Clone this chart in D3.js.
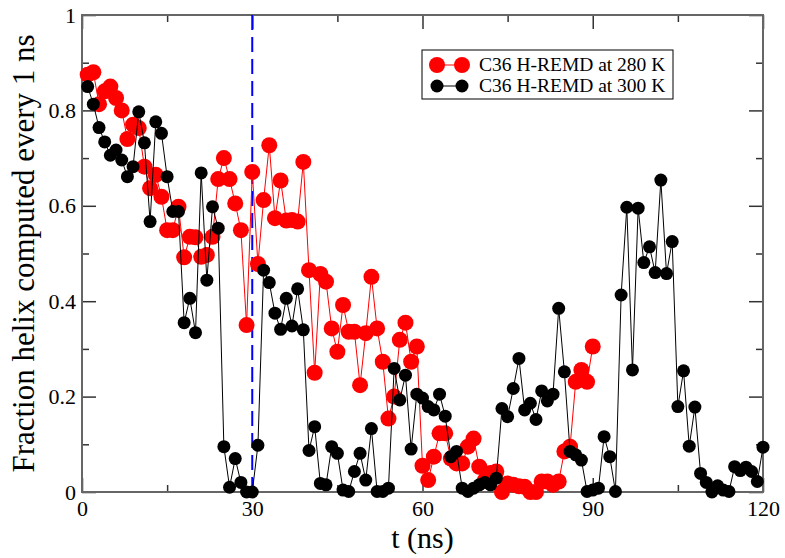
<!DOCTYPE html>
<html>
<head>
<meta charset="utf-8">
<script src="https://cdn.jsdelivr.net/npm/d3@7"></script>
<style>
  body { margin: 0; background: #fff; }
  svg { display: block; font-family: "Liberation Serif", "DejaVu Serif", serif; }
</style>
</head>
<body>
<script>
// helix fraction, one value per ns
const red280 = [
  0.875, 0.88, 0.813, 0.84, 0.85, 0.826, 0.80, 0.74, 0.77, 0.763,
  0.682, 0.637, 0.665, 0.619, 0.549, 0.549, 0.598, 0.492, 0.535, 0.534,
  0.493, 0.497, 0.535, 0.656, 0.70, 0.656, 0.605, 0.549, 0.35, 0.671,
  0.478, 0.612, 0.727, 0.574, 0.653, 0.569, 0.57, 0.567, 0.692, 0.465,
  0.25, 0.457, 0.441, 0.343, 0.294, 0.392, 0.336, 0.336, 0.224, 0.333,
  0.451, 0.343, 0.273, 0.154, 0.2, 0.319, 0.355, 0.273, 0.305, 0.055,
  0.025, 0.074, 0.123, 0.123, 0.07, 0.06, 0.06, 0.095, 0.112, 0.053,
  0.025, 0.04, 0.043, 0.0, 0.018, 0.015, 0.012, 0.011, 0.0, 0.0,
  0.022, 0.022, 0.015, 0.022, 0.085, 0.095, 0.231, 0.256, 0.231, 0.305
]
const black300 = [
  0.85, 0.813, 0.764, 0.734, 0.706, 0.717, 0.696, 0.661, 0.682, 0.797,
  0.732, 0.567, 0.776, 0.752, 0.661, 0.588, 0.588, 0.355, 0.406, 0.334,
  0.669, 0.444, 0.598, 0.553, 0.095, 0.01, 0.07, 0.02, 0.0, 0.0,
  0.098, 0.465, 0.439, 0.375, 0.341, 0.406, 0.348, 0.426, 0.34, 0.087,
  0.137, 0.018, 0.015, 0.095, 0.081, 0.004, 0.001, 0.043, 0.081, 0.025,
  0.133, 0.001, 0.001, 0.008, 0.259, 0.193, 0.245, 0.09, 0.205, 0.197,
  0.179, 0.172, 0.205, 0.159, 0.074, 0.085, 0.008, 0.001, 0.008, 0.015,
  0.02, 0.015, 0.029, 0.175, 0.158, 0.217, 0.28, 0.172, 0.186, 0.152,
  0.212, 0.191, 0.205, 0.385, 0.252, 0.085, 0.078, 0.067, 0.001, 0.004,
  0.008, 0.116, 0.074, 0.001, 0.413, 0.597, 0.256, 0.595, 0.481, 0.514,
  0.46, 0.654, 0.458, 0.525, 0.179, 0.254, 0.096, 0.178, 0.039, 0.02,
  0.0, 0.013, 0.004, 0.001, 0.053, 0.045, 0.052, 0.043, 0.022, 0.094
]
const seriesNames = ["C36 H-REMD at 280 K", "C36 H-REMD at 300 K"]
const xTicks = [0, 30, 60, 90, 120]
const xMinor = [15, 45, 75, 105]
const yTicks = [0, 0.2, 0.4, 0.6, 0.8, 1]
const yMinor = [0.1, 0.3, 0.5, 0.7, 0.9]
const marker = 30

const W = 785, H = 558
const mLeft = 82, mRight = 763, mTop = 15, mBottom = 492
const frameCol = "#666"

const svg = d3.select("body").append("svg")
    .attr("width", W)
    .attr("height", H)

const x = d3.scaleLinear().domain([0, 120]).range([mLeft, mRight])
const y = d3.scaleLinear().domain([0, 1]).range([mBottom, mTop])

function styleAxis(g) {
    g.select(".domain").remove()
    g.selectAll(".tick line").attr("stroke", "#333").attr("stroke-width", 1.5)
    g.selectAll("text").attr("fill", "#000").style("font-family", "Liberation Serif").attr("font-size", 22)
}

// bottom + left with labels
svg.append("g").attr("transform", "translate(0," + mBottom + ")")
    .call(d3.axisBottom(x).tickValues(xTicks).tickSize(-14).tickPadding(8).tickFormat(d3.format("d")))
    .call(styleAxis)
svg.append("g").attr("transform", "translate(0," + mBottom + ")")
    .call(d3.axisBottom(x).tickValues(xMinor).tickSize(-7).tickFormat(""))
    .call(styleAxis)
svg.append("g").attr("transform", "translate(" + mLeft + ",0)")
    .call(d3.axisLeft(y).tickValues(yTicks).tickSize(-14).tickPadding(6).tickFormat(d => d === 0 || d === 1 ? d : d3.format(".1f")(d)))
    .call(styleAxis)
svg.append("g").attr("transform", "translate(" + mLeft + ",0)")
    .call(d3.axisLeft(y).tickValues(yMinor).tickSize(-7).tickFormat(""))
    .call(styleAxis)
// top + right, ticks only
svg.append("g").attr("transform", "translate(0," + mTop + ")")
    .call(d3.axisTop(x).tickValues(xTicks).tickSize(-14).tickFormat(""))
    .call(styleAxis)
svg.append("g").attr("transform", "translate(0," + mTop + ")")
    .call(d3.axisTop(x).tickValues(xMinor).tickSize(-7).tickFormat(""))
    .call(styleAxis)
svg.append("g").attr("transform", "translate(" + mRight + ",0)")
    .call(d3.axisRight(y).tickValues(yTicks).tickSize(-14).tickFormat(""))
    .call(styleAxis)
svg.append("g").attr("transform", "translate(" + mRight + ",0)")
    .call(d3.axisRight(y).tickValues(yMinor).tickSize(-7).tickFormat(""))
    .call(styleAxis)

// frame
svg.append("rect")
    .attr("x", mLeft).attr("y", mTop)
    .attr("width", mRight - mLeft).attr("height", mBottom - mTop)
    .attr("fill", "none").attr("stroke", frameCol).attr("stroke-width", 2)

// dashed marker at 30 ns
svg.append("line")
    .attr("x1", x(marker)).attr("x2", x(marker))
    .attr("y1", y(1)).attr("y2", y(0))
    .attr("stroke", "#0000ff").attr("stroke-width", 2)
    .attr("stroke-dasharray", "15,7")

const line = d3.line().x((d, i) => x(i + 1)).y(d => y(d))

function drawSeries(data, col, r) {
    svg.append("path")
        .datum(data)
        .attr("d", line)
        .attr("fill", "none")
        .attr("stroke", col)
        .attr("stroke-width", 1)
    svg.append("g").selectAll("circle")
        .data(data)
        .enter()
        .append("circle")
        .attr("cx", (d, i) => x(i + 1))
        .attr("cy", d => y(d))
        .attr("r", r)
        .attr("fill", col)
}

drawSeries(red280, "#ff0000", 8)
drawSeries(black300, "#000000", 6.5)

// legend
const lg = svg.append("g").attr("transform", "translate(422,50)")
lg.append("rect").attr("width", 251).attr("height", 49)
    .attr("fill", "#fff").attr("stroke", "#000").attr("stroke-width", 1)
const legItems = [
    { name: seriesNames[0], col: "#ff0000", r: 8 },
    { name: seriesNames[1], col: "#000000", r: 6.5 }
]
legItems.forEach((it, i) => {
    const yy = 15 + i * 21
    lg.append("line").attr("x1", 15).attr("x2", 40).attr("y1", yy).attr("y2", yy)
        .attr("stroke", it.col).attr("stroke-width", 1)
    lg.append("circle").attr("cx", 15).attr("cy", yy).attr("r", it.r).attr("fill", it.col)
    lg.append("circle").attr("cx", 40).attr("cy", yy).attr("r", it.r).attr("fill", it.col)
    lg.append("text").attr("x", 57).attr("y", yy + 6)
        .attr("font-size", 19.5).text(it.name)
})

// axis titles
svg.append("text")
    .attr("x", (mLeft + mRight) / 2).attr("y", 548)
    .attr("text-anchor", "middle")
    .attr("font-size", 30)
    .text("t (ns)")

svg.append("text")
    .attr("transform", "translate(34," + (mTop + mBottom) / 2 + ") rotate(-90)")
    .attr("text-anchor", "middle")
    .attr("font-size", 31)
    .text("Fraction helix computed every 1 ns")
</script>
</body>
</html>
